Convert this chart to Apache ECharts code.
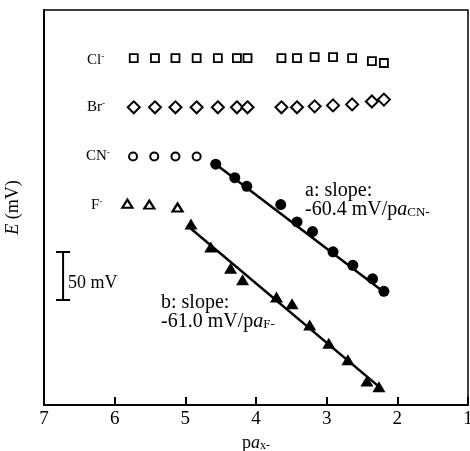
<!DOCTYPE html>
<html>
<head>
<meta charset="utf-8">
<script src="https://cdn.jsdelivr.net/npm/echarts@6/dist/echarts.min.js"></script>
<style>
  html, body { margin: 0; padding: 0; background: #fff; }
  #chart { width: 470px; height: 451px; }
</style>
</head>
<body>
<div id="chart"></div>
<script>
// x: pa of the anion, y: E in mV (zero is arbitrary, no tick labels)
const xTicks = [7, 6, 5, 4, 3, 2, 1]

// Cl- (open squares)
const clX = [5.73, 5.43, 5.14, 4.84, 4.54, 4.27, 4.12, 3.64, 3.42, 3.17, 2.91, 2.64, 2.36, 2.19]
const clY = [360, 360, 360, 360, 360, 360, 360, 360, 360, 361, 361, 360, 357, 355]

// Br- (open diamonds)
const brX = [5.73, 5.43, 5.14, 4.84, 4.54, 4.27, 4.12, 3.64, 3.42, 3.17, 2.91, 2.64, 2.36, 2.19]
const brY = [309, 309, 309, 309, 309, 309, 309, 309, 309, 310, 311, 312, 315, 317]

// CN- (open circles off the line, filled circles on the line)
const cnOpenX = [5.74, 5.44, 5.14, 4.84]
const cnOpenY = [258, 258, 258, 258]
const cnX = [4.57, 4.30, 4.13, 3.65, 3.42, 3.20, 2.91, 2.63, 2.35, 2.19]
const cnY = [250, 236, 227, 208, 190, 180, 159, 145, 131, 118]

// F- (open triangles off the line, filled triangles on the line)
const fOpenX = [5.82, 5.51, 5.11]
const fOpenY = [209, 208, 205]
const fX = [4.92, 4.64, 4.36, 4.19, 3.71, 3.49, 3.24, 2.97, 2.70, 2.43, 2.26]
const fY = [188, 164, 142, 130, 112, 105, 83, 64, 47, 25, 19]

// fitted lines a (CN-) and b (F-)
const fitAX = [4.57, 2.15]
const fitAY = [250, 115]
const fitBX = [4.97, 2.21]
const fitBY = [186, 16]

// 50 mV scale bar
const barX = 6.73
const barY = [109, 159]

const serif = '"Liberation Serif", "Times New Roman", serif'
const pts = (xs, ys) => xs.map((x, i) => [x, ys[i]])

const chart = echarts.init(document.getElementById("chart"))

const openStyle = { color: "#fff", borderColor: "#000", borderWidth: 2, opacity: 1 }
const fillStyle = { color: "#000", opacity: 1 }

chart.setOption({
  animation: false,
  grid: { left: 44, right: 2, top: 10, bottom: 46, show: true, borderColor: "#000", borderWidth: 1.5, outerBoundsMode: "none" },
  xAxis: {
    type: "value",
    inverse: true,
    min: 1,
    max: 7,
    interval: 1,
    axisLine: { lineStyle: { color: "#000", width: 2 } },
    axisTick: { inside: true, length: 8, lineStyle: { color: "#000", width: 2 } },
    axisLabel: { color: "#000", fontSize: 19, fontFamily: serif, margin: 5 },
    splitLine: { show: false },
    name: "p{i|a}{sub|x-}",
    nameLocation: "middle",
    nameGap: 27,
    nameTextStyle: {
      color: "#000", fontSize: 18, fontFamily: serif,
      rich: {
        i: { fontStyle: "italic", fontSize: 18, fontFamily: serif, color: "#000" },
        sub: { fontSize: 12, fontFamily: serif, color: "#000", verticalAlign: "bottom", lineHeight: 12 }
      }
    }
  },
  yAxis: {
    type: "value",
    min: 0,
    max: 410,
    axisLine: { show: true, lineStyle: { color: "#000", width: 2 } },
    axisTick: { show: false },
    axisLabel: { show: false },
    splitLine: { show: false },
    name: "{i|E} (mV)",
    nameLocation: "middle",
    nameGap: 22,
    nameTextStyle: {
      color: "#000", fontSize: 18, fontFamily: serif,
      rich: { i: { fontStyle: "italic", fontSize: 18, fontFamily: serif, color: "#000" } }
    }
  },
  series: [
    { type: "line", data: pts(fitAX, fitAY), symbol: "none", lineStyle: { color: "#000", width: 2.5 }, silent: true },
    { type: "line", data: pts(fitBX, fitBY), symbol: "none", lineStyle: { color: "#000", width: 2.5 }, silent: true },
    {
      type: "line", data: [[barX, barY[0]], [barX, barY[1]]], symbol: "none",
      lineStyle: { color: "#000", width: 2 }, silent: true,
      markLine: {
        symbol: "none", silent: true, label: { show: false },
        lineStyle: { color: "#000", width: 2, type: "solid" },
        data: [
          [{ coord: [barX + 0.1, barY[0]] }, { coord: [barX - 0.1, barY[0]] }],
          [{ coord: [barX + 0.1, barY[1]] }, { coord: [barX - 0.1, barY[1]] }]
        ]
      }
    },
    { type: "scatter", data: pts(clX, clY), symbol: "rect", symbolSize: 8, itemStyle: { ...openStyle, borderWidth: 1.8 } },
    { type: "scatter", data: pts(brX, brY), symbol: "diamond", symbolSize: 12, itemStyle: openStyle },
    { type: "scatter", data: pts(cnOpenX, cnOpenY), symbol: "circle", symbolSize: 8, itemStyle: openStyle },
    { type: "scatter", data: pts(cnX, cnY), symbol: "circle", symbolSize: 11, itemStyle: fillStyle },
    { type: "scatter", data: pts(fOpenX, fOpenY), symbol: "triangle", symbolSize: [10, 8], itemStyle: { ...openStyle, borderWidth: 2.2 } },
    { type: "scatter", data: pts(fX, fY), symbol: "triangle", symbolSize: [13, 11], itemStyle: fillStyle }
  ],
  graphic: [
    ionLabel("Cl", 87, 60),
    ionLabel("Br", 87, 107),
    ionLabel("CN", 86, 156),
    ionLabel("F", 91, 205),
    slopeText("a: slope:\n-60.4 mV/p{i|a}{sub|CN-}", 305, 181),
    slopeText("b: slope:\n-61.0 mV/p{i|a}{sub|F-}", 161, 293),
    {
      type: "text", x: 68, y: 283,
      style: { text: "50 mV", font: "18px " + serif, fill: "#000", verticalAlign: "middle" }
    }
  ]
})

function ionLabel(name, x, y) {
  return {
    type: "text", x: x, y: y,
    style: {
      text: name + "{sup|-}", font: "15px " + serif, fill: "#000", verticalAlign: "middle",
      rich: { sup: { fontSize: 9, fontFamily: serif, fill: "#000", verticalAlign: "top", lineHeight: 16 } }
    }
  }
}

function slopeText(text, x, y) {
  return {
    type: "text", x: x, y: y,
    style: {
      text: text, font: "20px " + serif, fill: "#000", lineHeight: 19,
      rich: {
        i: { font: "italic 20px " + serif, fontStyle: "italic", fontSize: 20, fontFamily: serif, fill: "#000", lineHeight: 19 },
        sub: { fontSize: 13, fontFamily: serif, fill: "#000", verticalAlign: "bottom", lineHeight: 10 }
      }
    }
  }
}
</script>
</body>
</html>
